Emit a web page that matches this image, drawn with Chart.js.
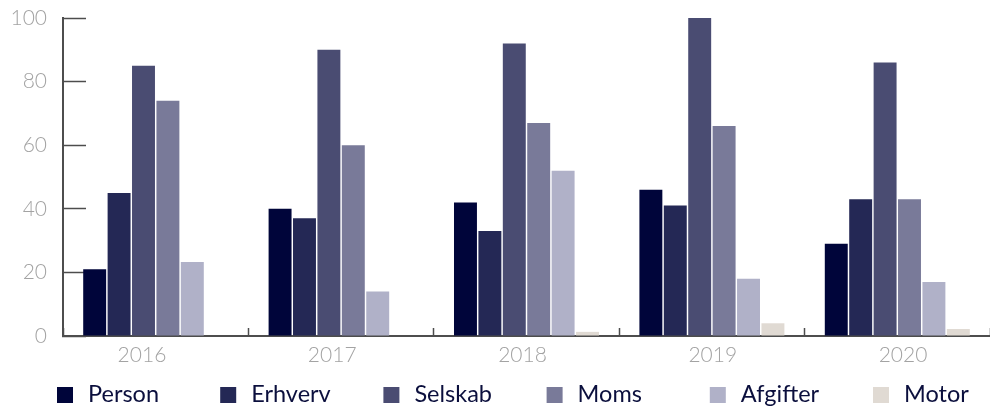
<!DOCTYPE html>
<html>
<head>
<meta charset="utf-8">
<script src="https://cdn.jsdelivr.net/npm/chart.js@4/dist/chart.umd.min.js"></script>
<style>
 html, body { margin: 0; padding: 0; background: #fff; }
 #wrap { width: 990px; height: 406px; }
</style>
</head>
<body>
<div id="wrap"><canvas id="chart"></canvas></div>
<script>
// data
const years = ["2016", "2017", "2018", "2019", "2020"];
const person = [21, 40, 42, 46, 29];
const erhverv = [45, 37, 33, 41, 43];
const selskab = [85, 90, 92, 100, 86];
const moms = [74, 60, 67, 66, 43];
const afgifter = [23.3, 14, 52, 18, 17];
const motor = [0, 0, 1.3, 4, 2.2];
const yTicks = [0, 20, 40, 60, 80, 100];

const axisGrey = "#4d4d4d";
const labelGrey = "#a3a3a3";

// legend drawn as fixed-width cells under the plot
const cellLegend = {
 id: "cellLegend",
 afterDraw(chart) {
  const { ctx } = chart;
  ctx.save();
  ctx.font = "23.5px Lato, sans-serif";
  ctx.textBaseline = "alphabetic";
  chart.data.datasets.forEach((ds, i) => {
   const x = 57 + i * 163.2;
   ctx.fillStyle = ds.backgroundColor;
   ctx.fillRect(x, 387, 16, 16);
   ctx.fillStyle = "#0b0f3d";
   ctx.fillText(ds.label, x + 31, 402);
  });
  ctx.restore();
 },
};

const ctx = document.getElementById("chart").getContext("2d");

new Chart(ctx, {
 type: "bar",
 plugins: [cellLegend],
 data: {
  labels: years,
  datasets: [
   { label: "Person", data: person, backgroundColor: "#00053a" },
   { label: "Erhverv", data: erhverv, backgroundColor: "#242855" },
   { label: "Selskab", data: selskab, backgroundColor: "#4a4c72" },
   { label: "Moms", data: moms, backgroundColor: "#797a99" },
   { label: "Afgifter", data: afgifter, backgroundColor: "#b0b1c8" },
   { label: "Motor", data: motor, backgroundColor: "#e0dad3" },
  ],
 },
 options: {
  responsive: true,
  maintainAspectRatio: false,
  animation: false,
  layout: { padding: { top: 18, right: 0, bottom: 30, left: 0 } },
  datasets: {
   bar: { categoryPercentage: 0.79, barPercentage: 0.94 },
  },
  scales: {
   x: {
    position: "bottom",
    offset: true,
    afterFit: (s) => { s.height = 0; },
    ticks: { display: false },
    grid: {
     offset: true,
     drawOnChartArea: false,
     drawTicks: true,
     tickLength: -8,
     tickColor: axisGrey,
     tickWidth: 1.5,
    },
    border: { display: true, color: axisGrey, width: 2 },
   },
   // year labels sit on their own axis, spaced a little wider than the bar groups
   x2: {
    type: "linear",
    position: "bottom",
    bounds: "data",
    offset: false,
    min: -0.415,
    max: 4.457,
    afterBuildTicks: (s) => { s.ticks = years.map((_, i) => ({ value: i })); },
    afterFit: (s) => { s.height = 40; },
    ticks: {
     callback: (v) => years[v],
     color: labelGrey,
     font: { family: "Lato", size: 21, weight: 300 },
     padding: 7,
     autoSkip: false,
     maxRotation: 0,
    },
    grid: { display: false, drawTicks: false },
    border: { display: false },
   },
   y: {
    min: 0,
    max: 100,
    afterBuildTicks: (s) => { s.ticks = yTicks.map((v) => ({ value: v })); },
    afterFit: (s) => {
     s.width = 63;
     s.paddingTop = 0;
     s.paddingBottom = 0;
    },
    ticks: {
     color: labelGrey,
     font: { family: "Lato", size: 21, weight: 300 },
     padding: 39,
    },
    grid: {
     drawOnChartArea: false,
     drawTicks: true,
     tickLength: -23,
     tickColor: axisGrey,
     tickWidth: 1.5,
    },
    border: { display: true, color: axisGrey, width: 2 },
   },
  },
  plugins: {
   legend: { display: false },
   tooltip: { enabled: false },
  },
 },
});
</script>
</body>
</html>
